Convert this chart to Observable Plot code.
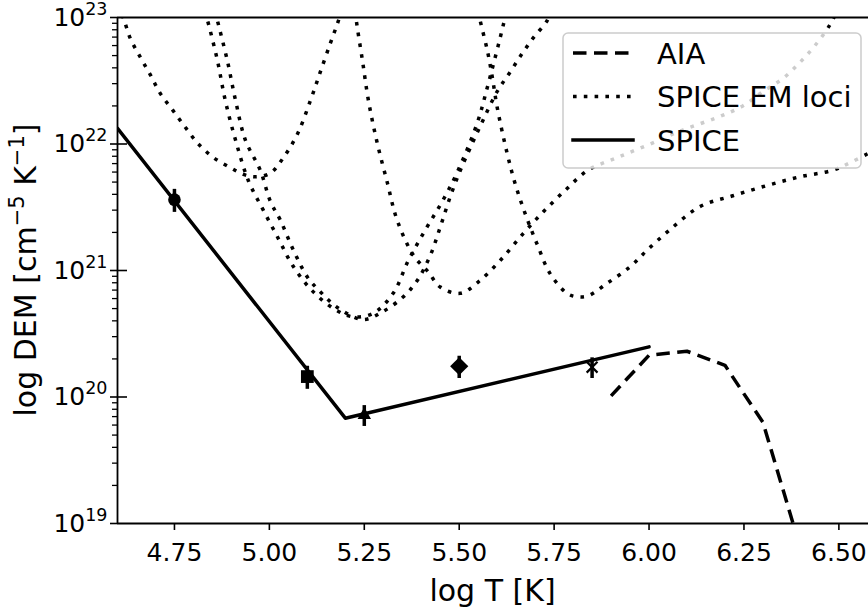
<!DOCTYPE html>
<html><head><meta charset="utf-8">
<script src="https://cdn.jsdelivr.net/npm/d3@7"></script>
<script src="https://cdn.jsdelivr.net/npm/@observablehq/plot@0.6"></script>
<style>body{margin:0;background:#fff} svg{font-family:"DejaVu Sans",sans-serif}</style>
</head><body><div id="chart"></div>
<script>
// ---- data ----
const xTicks = [4.75, 5.00, 5.25, 5.50, 5.75, 6.00, 6.25, 6.50];
const yMajorTicks = [1e19, 1e20, 1e21, 1e22, 1e23];
const yMinorTicks = [19, 20, 21, 22].flatMap(e => [2,3,4,5,6,7,8,9].map(m => m * 10 ** e));

// SPICE DEM (solid)
const spiceT  = [4.60, 5.20, 6.00];
const spiceEM = [1.33e22, 6.8e19, 2.49e20];

// AIA DEM (dashed)
const aiaT  = [5.9, 6.0, 6.1, 6.2, 6.3, 6.4];
const aiaEM = [1.02e20, 2.14e20, 2.3e20, 1.78e20, 6.3e19, 6.2e18];

// SPICE line intensities with error bars
const pointT   = [4.75, 5.10, 5.25, 5.50, 5.85];
const pointEM  = [3.63e21, 1.45e20, 7.2e19, 1.75e20, 1.72e20];
const pointErr = [0.75e21, 0.30e20, 1.35e19, 0.35e20, 0.32e20];
const pointMarker = ["circle", "square", "triangle", "diamond2", "times"];

// SPICE EM loci (dotted)
const loci1T  = [4.600, 4.616, 4.634, 4.661, 4.687, 4.713, 4.745, 4.779, 4.813, 4.853, 4.897, 4.932, 4.963, 5.003, 5.037, 5.074, 5.108, 5.134, 5.161, 5.179, 5.190];
const loci1EM = [1.26e23, 9.8e22, 6.8e22, 4.8e22, 3.5e22, 2.5e22, 1.86e22, 1.35e22, 1.0e22, 7.8e21, 6.5e21, 5.75e21, 5.5e21, 5.9e21, 7.8e21, 1.2e22, 2.2e22, 3.7e22, 6.3e22, 8.9e22, 1.12e23];
const loci2T  = [4.830, 4.837, 4.863, 4.884, 4.911, 4.945, 4.984, 5.024, 5.061, 5.113, 5.174, 5.221, 5.274, 5.326, 5.366, 5.411, 5.455, 5.495, 5.547, 5.574, 5.616, 5.624];
const loci2EM = [1.12e23, 9.5e22, 4.6e22, 2.2e22, 1.07e22, 5.1e21, 3.0e21, 1.78e21, 1.1e21, 6.9e20, 4.9e20, 4.3e20, 4.6e20, 6.6e20, 1.2e21, 2.1e21, 3.5e21, 6.0e21, 1.45e22, 2.8e22, 8.7e22, 1.12e23];
const loci3T  = [4.857, 4.863, 4.889, 4.911, 4.937, 4.976, 5.003, 5.029, 5.061, 5.100, 5.134, 5.179, 5.247, 5.297, 5.353, 5.389, 5.424, 5.450, 5.476, 5.503, 5.529, 5.563, 5.600, 5.634, 5.666, 5.695, 5.732, 5.740];
const loci3EM = [1.12e23, 9.5e22, 4.6e22, 2.2e22, 1.07e22, 6.2e21, 3.5e21, 2.5e21, 1.5e21, 8.9e20, 6.8e20, 5.1e20, 4.1e20, 4.7e20, 6.2e20, 8.3e20, 1.32e21, 2.2e21, 3.8e21, 6.2e21, 9.3e21, 1.55e22, 2.6e22, 3.7e22, 5.2e22, 6.9e22, 9.5e22, 1.12e23];
const loci4T  = [5.227, 5.229, 5.245, 5.261, 5.284, 5.311, 5.332, 5.358, 5.384, 5.418, 5.450, 5.503, 5.550, 5.608, 5.668, 5.721, 5.779, 5.839, 5.916, 6.003, 6.089, 6.179, 6.247, 6.300, 6.353, 6.397, 6.437, 6.476, 6.495];
const loci4EM = [1.12e23, 9.5e22, 4.6e22, 2.2e22, 1.02e22, 4.9e21, 2.75e21, 1.74e21, 1.26e21, 9.8e20, 7.4e20, 6.6e20, 8.1e20, 1.2e21, 1.95e21, 2.9e21, 4.3e21, 6.2e21, 7.8e21, 1.0e22, 1.29e22, 1.62e22, 2.0e22, 2.6e22, 3.3e22, 4.4e22, 6.0e22, 8.7e22, 1.12e23];
const loci5T  = [5.550, 5.555, 5.574, 5.587, 5.600, 5.626, 5.647, 5.674, 5.705, 5.739, 5.784, 5.811, 5.839, 5.889, 5.950, 5.995, 6.055, 6.134, 6.221, 6.311, 6.397, 6.484, 6.529, 6.580];
const loci5EM = [1.12e23, 9.5e22, 5.5e22, 3.4e22, 1.95e22, 8.5e21, 4.9e21, 2.8e21, 1.62e21, 9.5e20, 6.6e20, 6.2e20, 6.3e20, 7.9e20, 1.07e21, 1.45e21, 2.1e21, 3.2e21, 3.9e21, 4.7e21, 5.5e21, 6.2e21, 7.1e21, 8.5e21];

const legendLabels = ["AIA", "SPICE EM loci", "SPICE"];
const xLabel = "log T [K]";

// ---- build rows ----
const rows = (T, V, extra = {}) => T.map((t, i) => ({T: t, EM: V[i], ...extra}));
const spiceRows = rows(spiceT, spiceEM);
const aiaRows = rows(aiaT, aiaEM);
const lociRows = [
  ...rows(loci1T, loci1EM, {id: 1}), ...rows(loci2T, loci2EM, {id: 2}),
  ...rows(loci3T, loci3EM, {id: 3}), ...rows(loci4T, loci4EM, {id: 4}),
  ...rows(loci5T, loci5EM, {id: 5})
];
const pointRows = pointT.map((t, i) => ({T: t, EM: pointEM[i], lo: pointEM[i] - pointErr[i], hi: pointEM[i] + pointErr[i], marker: pointMarker[i]}));

// ---- styles ----
const LW = 3.5;
const DOT = "3.6,7.2";
const DASH = "13.5,7.5";
const markerR = {circle: 6.3, square: 7.2, triangle: 5.0, diamond2: 8.2, times: 5};
const W = 868, H = 611, ML = 117, MR = 0, MT = 17, MB = 88;

const markerMarks = pointRows.map(p => Plot.dot([p], {
  x: "T", y: "EM", symbol: () => p.marker, r: markerR[p.marker],
  fill: p.marker === "times" ? "none" : "black",
  stroke: p.marker === "times" ? "black" : "none", strokeWidth: 2.2
}));

const svg = Plot.plot({
  width: W, height: H,
  marginLeft: ML, marginRight: MR, marginTop: MT, marginBottom: MB,
  style: {fontFamily: "DejaVu Sans", background: "white", color: "black"},
  x: {domain: [4.6, 6.578]},
  y: {type: "log", domain: [1e19, 1e23]},
  symbol: {type: "identity"},
  marks: [
    Plot.line(lociRows, {x: "T", y: "EM", z: "id", curve: "catmull-rom", stroke: "black", strokeWidth: LW, strokeDasharray: DOT, strokeLinecap: "butt", clip: true}),
    Plot.line(aiaRows, {x: "T", y: "EM", stroke: "black", strokeWidth: LW, strokeDasharray: DASH, strokeLinecap: "butt", clip: true}),
    Plot.line(spiceRows, {x: "T", y: "EM", stroke: "black", strokeWidth: LW, clip: true}),
    Plot.ruleX(pointRows, {x: "T", y1: "lo", y2: "hi", stroke: "black", strokeWidth: LW}),
    ...markerMarks,
    Plot.axisX(xTicks, {tickSize: 7, tickPadding: 13, strokeWidth: 1.6, fontSize: 25, tickFormat: d3.format(".2f"), label: null}),
    Plot.axisY(yMajorTicks, {tickSize: 7, tickPadding: 3, strokeWidth: 1.6, fontSize: 25, tickFormat: d => String(Math.round(Math.log10(d))), label: null, ariaLabel: "y-major"}),
    Plot.axisY(yMinorTicks, {tickSize: 5, strokeWidth: 1.3, tickFormat: () => "", label: null}),
    Plot.ruleY(yMajorTicks.slice(1, -1), {insetRight: W - ML - MR - 10, strokeWidth: 1.6}),
    Plot.ruleY([1e23], {strokeWidth: 1.8}),
    Plot.ruleY([1e19], {strokeWidth: 1.8}),
    Plot.ruleX([4.6], {strokeWidth: 1.8})
  ]
});

// y tick labels as 10^n with superscripts (major labels only)
d3.select(svg).selectAll('g[aria-label$="tick label"] text').each(function() {
  const t = d3.select(this);
  const e = t.text();
  if (!/^\d\d$/.test(e) || t.node().closest('g[aria-label^="x-axis"]')) return;
  t.text("");
  t.append("tspan").text("10");
  t.append("tspan").attr("font-size", 17.5).attr("dy", -11).text(e);
});

const s = d3.select(svg);
// axis labels
s.append("text").attr("x", (ML + W - MR) / 2).attr("y", 601).attr("text-anchor", "middle")
  .attr("font-size", 30).attr("fill", "black").text(xLabel);
const yl = s.append("text").attr("transform", `translate(36,${(MT + H - MB) / 2}) rotate(-90)`)
  .attr("text-anchor", "middle").attr("font-size", 30).attr("fill", "black");
yl.append("tspan").text("log DEM [cm");
yl.append("tspan").attr("font-size", 21).attr("dy", -12).text("−5");
yl.append("tspan").attr("dy", 12).text(" K");
yl.append("tspan").attr("font-size", 21).attr("dy", -12).text("−1");
yl.append("tspan").attr("dy", 12).text("]");

// legend
const lg = s.append("g");
lg.append("rect").attr("x", 563).attr("y", 33).attr("width", 298).attr("height", 135).attr("rx", 5)
  .attr("fill", "white").attr("fill-opacity", 0.8).attr("stroke", "#cccccc").attr("stroke-width", 1.5);
const legendDash = [DASH, DOT, null];
legendLabels.forEach((lab, i) => {
  const y = 53 + i * 43.5;
  lg.append("line").attr("x1", 573).attr("x2", 633).attr("y1", y).attr("y2", y)
    .attr("stroke", "black").attr("stroke-width", LW)
    .attr("stroke-dasharray", legendDash[i]).attr("stroke-linecap", legendDash[i] ? "butt" : "square");
  lg.append("text").attr("x", 657).attr("y", y + 10.5).attr("text-anchor", "start")
    .attr("font-size", 29).attr("fill", "black").text(lab);
});

document.getElementById("chart").appendChild(svg);
</script></body></html>
